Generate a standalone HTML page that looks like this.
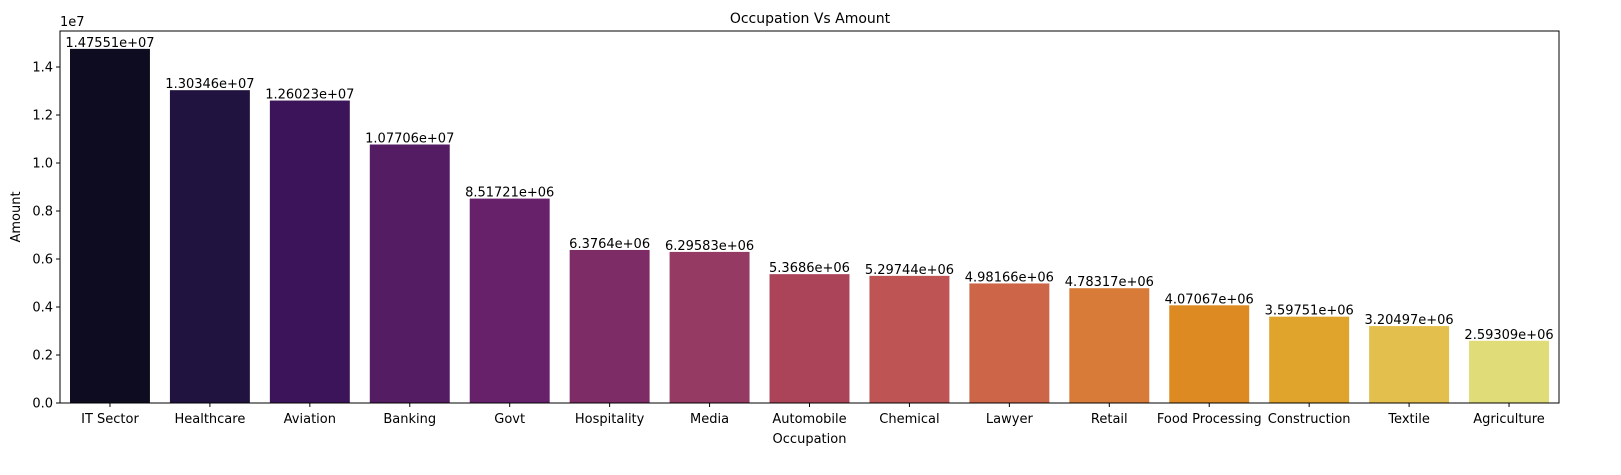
<!DOCTYPE html>
<html><head><meta charset="utf-8"><style>
body{margin:0;background:#fff;font-family:"Liberation Sans","DejaVu Sans",sans-serif;}
svg text{font-family:"DejaVu Sans","Liberation Sans",sans-serif;}
</style></head><body>
<svg id="chart" width="1621" height="470" xmlns="http://www.w3.org/2000/svg">
<rect width="1621" height="470" fill="#fff"/>
<text x="810" y="23" font-size="14" text-anchor="middle">Occupation Vs Amount</text>
<g id="bars"></g>
<g id="axes"></g>
</svg>
<script>
const categories=["IT Sector","Healthcare","Aviation","Banking","Govt","Hospitality","Media","Automobile","Chemical","Lawyer","Retail","Food Processing","Construction","Textile","Agriculture"];
const amounts=[14755100,13034600,12602300,10770600,8517210,6376400,6295830,5368600,5297440,4981660,4783170,4070670,3597510,3204970,2593090];
const valueLabels=["1.47551e+07","1.30346e+07","1.26023e+07","1.07706e+07","8.51721e+06","6.3764e+06","6.29583e+06","5.3686e+06","5.29744e+06","4.98166e+06","4.78317e+06","4.07067e+06","3.59751e+06","3.20497e+06","2.59309e+06"];
const barColors=["#0e0c20","#21133f","#3b1459","#531c63","#66216a","#7e2c66","#953a62","#ab4459","#bf5454","#cd6649","#d97b38","#dd8a22","#e0a32c","#e3c04d","#e0dc77"];
const yTicks=[0,0.2,0.4,0.6,0.8,1.0,1.2,1.4];
const yTickLabels=["0.0","0.2","0.4","0.6","0.8","1.0","1.2","1.4"];
const L=60,R=1559,T=31,B=403;
const NS="http://www.w3.org/2000/svg";
const step=(R-L)/categories.length;
function x(i){return L+step*(i+0.5);}
function y(v){return B-v/1e7*240;}
function mk(tag,attrs,parent,txt){const e=document.createElementNS(NS,tag);for(const k in attrs)e.setAttribute(k,attrs[k]);if(txt!==undefined)e.textContent=txt;parent.appendChild(e);return e;}
const bars=document.getElementById('bars'),axes=document.getElementById('axes');
categories.forEach((c,i)=>{
 const w=step*0.8;
 const r=mk('rect',{x:x(i)-w/2,y:y(amounts[i]),width:w,height:B-y(amounts[i]),fill:barColors[i]},bars);
 
 
 const t=mk('text',{x:x(i),y:y(amounts[i])-2,'font-size':13,'text-anchor':'middle'},bars,valueLabels[i]);
 
 
 mk('line',{x1:x(i),x2:x(i),y1:B,y2:B+4,stroke:'#000'},axes);
 const xl=mk('text',{x:x(i),y:B+20,'font-size':13,'text-anchor':'middle'},axes,c);
 
 
});
yTicks.forEach((v,i)=>{
 const yy=y(v*1e7);
 mk('line',{x1:L-4,x2:L,y1:yy,y2:yy,stroke:'#000'},axes);
 const tl=mk('text',{x:L-7,y:yy+4.5,'font-size':13,'text-anchor':'end'},axes,yTickLabels[i]);
 
 
});
mk('rect',{x:L,y:T,width:R-L,height:B-T,fill:'none',stroke:'#000','stroke-width':1},axes);
const sc=mk('text',{x:L,y:T-5,'font-size':13},axes,'1e7');


const xt=mk('text',{x:(L+R)/2,y:443,'font-size':13,'text-anchor':'middle'},axes,'Occupation');


const yt=mk('text',{x:20,y:(T+B)/2,'font-size':13,'text-anchor':'middle',transform:'rotate(-90 20 '+((T+B)/2)+')'},axes,'Amount');


</script>
</body></html>
